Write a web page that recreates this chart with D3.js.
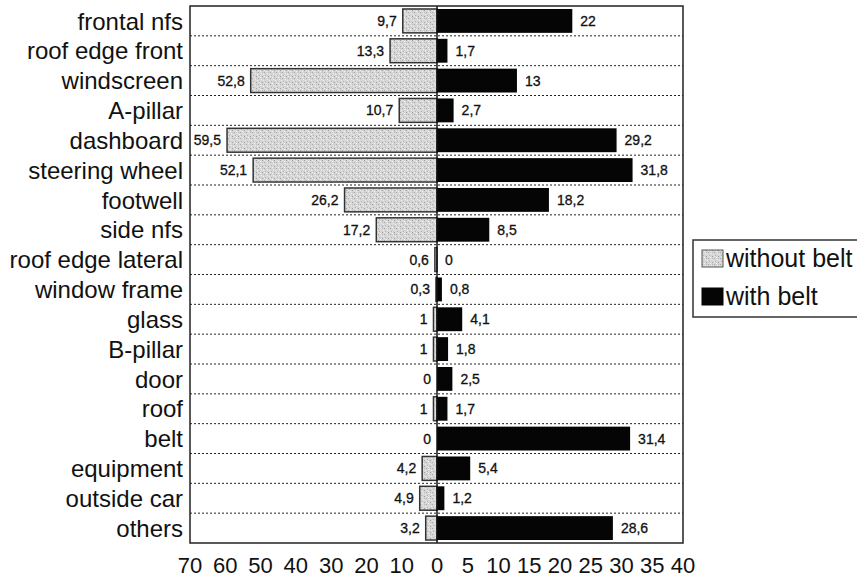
<!DOCTYPE html>
<html>
<head>
<meta charset="utf-8">
<script src="https://cdn.jsdelivr.net/npm/d3@7"></script>
<style>
  html, body { margin: 0; padding: 0; background: #fff; }
  svg { display: block; }
  text { font-family: "Liberation Sans", Arial, Helvetica, sans-serif; fill: #111; }
</style>
</head>
<body>
<svg id="chart" width="857" height="578"></svg>
<script>
const categories = ["frontal nfs","roof edge front","windscreen","A-pillar","dashboard","steering wheel","footwell","side nfs","roof edge lateral","window frame","glass","B-pillar","door","roof","belt","equipment","outside car","others"];
const withoutBelt = [9.7,13.3,52.8,10.7,59.5,52.1,26.2,17.2,0.6,0.3,1,1,0,1,0,4.2,4.9,3.2];
const withBelt = [22,1.7,13,2.7,29.2,31.8,18.2,8.5,0,0.8,4.1,1.8,2.5,1.7,31.4,5.4,1.2,28.6];
const leftTicks = [70,60,50,40,30,20,10,0];
const rightTicks = [5,10,15,20,25,30,35,40];
const seriesNames = ["without belt","with belt"];

const svg = d3.select("#chart");
const plot = {left:190, right:683, top:6, bottom:543, zero:437};

// texture for light bars
const defs = svg.append("defs");
const pat = defs.append("pattern").attr("id","speck").attr("patternUnits","userSpaceOnUse")
  .attr("width",6).attr("height",6);
pat.append("rect").attr("width",6).attr("height",6).attr("fill","#d6d6d6");
[[0,0,"#a8a8a8"],[3,1,"#efefef"],[1,3,"#b5b5b5"],[4,4,"#9e9e9e"],[5,2,"#ececec"],[2,5,"#f2f2f2"],[4,0,"#c0c0c0"],[0,4,"#e8e8e8"]]
  .forEach(([x,y,c]) => pat.append("rect").attr("x",x).attr("y",y).attr("width",1).attr("height",1).attr("fill",c));

const fmt = v => String(v).replace(".", ",");

const xL = d3.scaleLinear().domain([0,70]).range([plot.zero, plot.left]);
const xR = d3.scaleLinear().domain([0,40]).range([plot.zero, plot.right]);
const y = d3.scaleBand().domain(categories).range([plot.top, plot.bottom]).paddingInner(0.2).paddingOuter(0.1);
const step = y.step();

// gridlines (dotted row separators)
svg.append("g").selectAll("line").data(categories.slice(1)).join("line")
  .attr("x1", plot.left).attr("x2", plot.right)
  .attr("y1", d => y(d) - step*0.1).attr("y2", d => y(d) - step*0.1)
  .attr("stroke","#222").attr("stroke-width",1).attr("stroke-dasharray","2,2");

// bars without belt
svg.append("g").selectAll("rect").data(categories).join("rect")
  .attr("x", (d,i) => xL(withoutBelt[i]))
  .attr("y", d => y(d))
  .attr("width", (d,i) => plot.zero - xL(withoutBelt[i]))
  .attr("height", y.bandwidth())
  .attr("fill","url(#speck)").attr("stroke","#333").attr("stroke-width",1.5);

// bars with belt
svg.append("g").selectAll("rect").data(categories).join("rect")
  .attr("x", plot.zero)
  .attr("y", d => y(d))
  .attr("width", (d,i) => xR(withBelt[i]) - plot.zero)
  .attr("height", y.bandwidth())
  .attr("fill","#050505");

// zero line
svg.append("line").attr("x1",plot.zero).attr("x2",plot.zero).attr("y1",plot.top).attr("y2",plot.bottom)
  .attr("stroke","#111").attr("stroke-width",1.5);

// frame
svg.append("rect").attr("x",plot.left).attr("y",plot.top)
  .attr("width",plot.right-plot.left).attr("height",plot.bottom-plot.top)
  .attr("fill","none").attr("stroke","#222").attr("stroke-width",1.5);

// value labels
svg.append("g").selectAll("text").data(categories).join("text")
  .attr("x", (d,i) => xL(withoutBelt[i]) - 6)
  .attr("y", d => y(d) + y.bandwidth()/2)
  .attr("dy","0.36em").attr("text-anchor","end").attr("font-size",14)
  .attr("stroke","#111").attr("stroke-width",0.3)
  .text((d,i) => fmt(withoutBelt[i]));
svg.append("g").selectAll("text").data(categories).join("text")
  .attr("x", (d,i) => xR(withBelt[i]) + 8)
  .attr("y", d => y(d) + y.bandwidth()/2)
  .attr("dy","0.36em").attr("text-anchor","start").attr("font-size",14)
  .attr("stroke","#111").attr("stroke-width",0.3)
  .text((d,i) => fmt(withBelt[i]));

// category labels
svg.append("g").selectAll("text").data(categories).join("text")
  .attr("x", 183)
  .attr("y", d => y(d) + y.bandwidth()/2)
  .attr("dy","0.36em").attr("text-anchor","end").attr("font-size",24)
  .text(d => d);

// x axis tick labels
const tickG = svg.append("g").attr("font-size",22);
tickG.selectAll("text.l").data(leftTicks).join("text").attr("class","l")
  .attr("x", d => xL(d)).attr("y", 573).attr("text-anchor","middle").text(d => d);
tickG.selectAll("text.r").data(rightTicks).join("text").attr("class","r")
  .attr("x", d => xR(d)).attr("y", 573).attr("text-anchor","middle").text(d => d);

// legend
const lg = svg.append("g");
lg.append("rect").attr("x",693).attr("y",240).attr("width",180).attr("height",77)
  .attr("fill","#fff").attr("stroke","#333").attr("stroke-width",1.5);
const fills = ["url(#speck)","#050505"];
seriesNames.forEach((name,i) => {
  const yy = 250 + i*38;
  lg.append("rect").attr("x",702).attr("y",yy).attr("width",21).attr("height",17)
    .attr("fill",fills[i]).attr("stroke", i===0 ? "#555" : "#050505").attr("stroke-width",1);
  lg.append("text").attr("x",726).attr("y",yy+17).attr("font-size",25).text(name);
});
</script>
</body>
</html>
